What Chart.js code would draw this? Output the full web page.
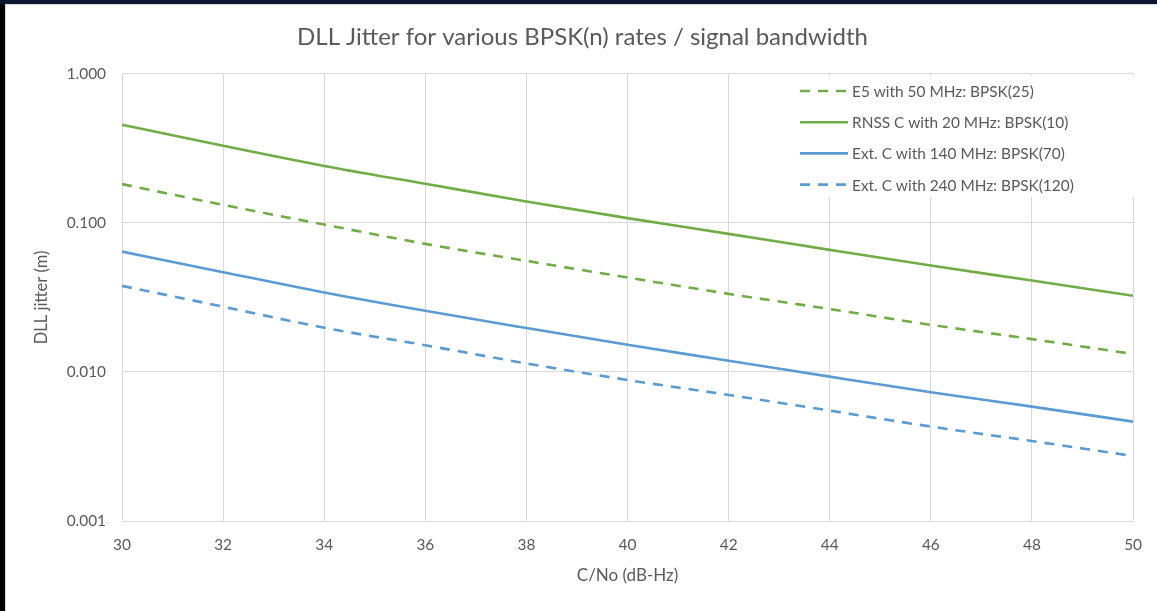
<!DOCTYPE html>
<html>
<head>
<meta charset="utf-8">
<script src="https://cdn.jsdelivr.net/npm/chart.js@4.4.0/dist/chart.umd.min.js"></script>
<style>
    html, body { margin: 0; padding: 0; background: #000; overflow: hidden; }
    #topbar { position: absolute; left: 0; top: 0; width: 1157px; height: 4px; background: #0e1530; }
    #panel { position: absolute; left: 5px; top: 4px; width: 1152px; height: 607px; background: #fff;
             border-top: 1px solid #d9d9d9; border-left: 1px solid #d9d9d9; box-sizing: border-box; }
    #wrap { position: absolute; left: 0; top: 0; width: 1157px; height: 611px; }
</style>
</head>
<body>
<div id="topbar"></div>
<div id="panel"></div>
<div id="wrap"><canvas id="jitterChart" width="1157" height="611"></canvas></div>
<script>
// C/No (dB-Hz)
const cn0 = [30, 32, 34, 36, 38, 40, 42, 44, 46, 48, 50];

// DLL jitter (m)
const e5Bpsk25 = [0.182, 0.132, 0.0974, 0.0723, 0.0556, 0.0430, 0.0334, 0.0264, 0.0207, 0.0166, 0.0132];
const rnssBpsk10 = [0.455, 0.329, 0.241, 0.183, 0.139, 0.1076, 0.0844, 0.0659, 0.0517, 0.0410, 0.0324];
const extC140Bpsk70 = [0.0642, 0.0467, 0.0341, 0.0257, 0.0197, 0.0152, 0.0119, 0.0093, 0.00731, 0.00585, 0.00464];
const extC240Bpsk120 = [0.0378, 0.0274, 0.0198, 0.0151, 0.0114, 0.00883, 0.00701, 0.0055, 0.0043, 0.00344, 0.00273];

const yTicks = [0.001, 0.01, 0.1, 1];

const GREEN = '#70ad47';
const BLUE = '#5b9bd5';
const TEXT = '#595959';
const GRID = '#d9d9d9';
const FONT = 'Lato, "Open Sans", sans-serif';

function series(label, values, color, dashed) {
    return {
        label: label,
        data: cn0.map((x, i) => ({ x: x, y: values[i] })),
        borderColor: color,
        backgroundColor: color,
        borderWidth: 2.6,
        borderDash: dashed ? [10, 8] : [],
        pointRadius: 0,
        cubicInterpolationMode: 'monotone',
        fill: false
    };
}

// legend drawn inside the plot, over a white box
const boxLegend = {
    id: 'boxLegend',
    beforeDatasetsDraw(chart) {
        const ctx = chart.ctx;
        ctx.save();
        ctx.fillStyle = '#fff';
        ctx.fillRect(786, 76, 348, 121);
        ctx.font = '15.4px ' + FONT;
        ctx.textBaseline = 'middle';
        ctx.fillStyle = TEXT;
        chart.data.datasets.forEach((ds, i) => {
            const y = 91 + i * 31.2;
            ctx.strokeStyle = ds.borderColor;
            ctx.lineWidth = 2.6;
            ctx.setLineDash(ds.borderDash.length ? [10, 8] : []);
            ctx.beginPath();
            ctx.moveTo(800, y);
            ctx.lineTo(848, y);
            ctx.stroke();
            ctx.setLineDash([]);
            ctx.fillText(ds.label, 852, y + 1);
        });
        ctx.restore();
    }
};

const ctx = document.getElementById('jitterChart').getContext('2d');
new Chart(ctx, {
    type: 'line',
    data: {
        datasets: [
            series('E5 with 50 MHz: BPSK(25)', e5Bpsk25, GREEN, true),
            series('RNSS C with 20 MHz: BPSK(10)', rnssBpsk10, GREEN, false),
            series('Ext. C with 140 MHz: BPSK(70)', extC140Bpsk70, BLUE, false),
            series('Ext. C with 240 MHz: BPSK(120)', extC240Bpsk120, BLUE, true)
        ]
    },
    options: {
        responsive: false,
        animation: false,
        layout: { padding: { left: 28, right: 20, top: 0, bottom: 21 } },
        plugins: {
            legend: { display: false },
            tooltip: { enabled: false },
            title: {
                display: true,
                text: 'DLL Jitter for various BPSK(n) rates / signal bandwidth',
                color: TEXT,
                font: { family: FONT, size: 24, weight: 'normal' },
                padding: { top: 23, bottom: 22 }
            }
        },
        scales: {
            x: {
                type: 'linear',
                min: 30,
                max: 50,
                ticks: { stepSize: 2, color: TEXT, font: { family: FONT, size: 15.4 }, padding: 15 },
                grid: { color: GRID, drawTicks: false },
                border: { color: GRID },
                title: { display: true, text: 'C/No (dB-Hz)', color: TEXT, font: { family: FONT, size: 17 } },
                afterFit(scale) { scale.height = 69; }
            },
            y: {
                type: 'logarithmic',
                min: 0.001,
                max: 1,
                afterBuildTicks(scale) { scale.ticks = yTicks.map(v => ({ value: v })); },
                ticks: {
                    color: TEXT,
                    font: { family: FONT, size: 15.4 },
                    padding: 16,
                    callback: v => Number(v).toFixed(3)
                },
                grid: { color: GRID, drawTicks: false },
                border: { color: GRID },
                title: { display: true, text: 'DLL jitter (m)', color: TEXT, font: { family: FONT, size: 16.5 } },
                afterFit(scale) { scale.width = 94; }
            }
        }
    },
    plugins: [boxLegend]
});
</script>
</body>
</html>
